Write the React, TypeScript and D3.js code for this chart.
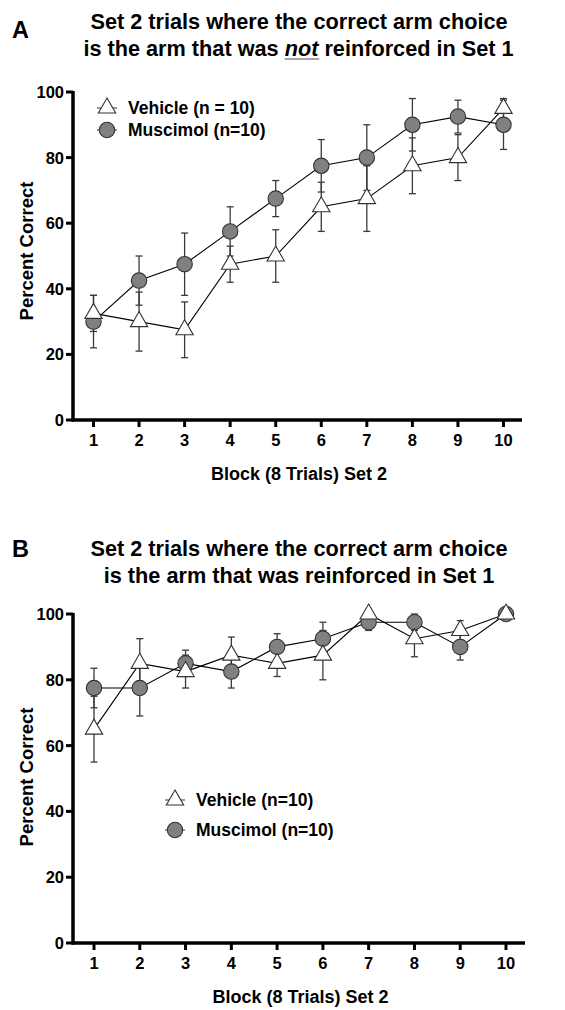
import React, { useLayoutEffect, useRef, useState } from "react";
import * as d3 from "d3";

const blocks = [1, 2, 3, 4, 5, 6, 7, 8, 9, 10];
const yTicks = [0, 20, 40, 60, 80, 100];

// Panel A: correct arm = arm NOT reinforced in Set 1
const vehicleA = [32.5, 30, 27.5, 47.5, 50, 65, 67.5, 77.5, 80, 95];
const vehicleSemA = [5.5, 9, 8.5, 5.5, 8, 7.5, 10, 8.5, 7, 3];
const muscimolA = [30, 42.5, 47.5, 57.5, 67.5, 77.5, 80, 90, 92.5, 90];
const muscimolSemA = [8, 7.5, 9.5, 7.5, 5.5, 8, 10, 8, 5, 7.5];

// Panel B: correct arm = arm reinforced in Set 1
const vehicleB = [65, 85, 82.5, 87.5, 85, 87.5, 100, 92.5, 95, 100];
const vehicleSemB = [10, 7.5, 5, 5.5, 4, 7.5, 0, 5.5, 3, 0];
const muscimolB = [77.5, 77.5, 85, 82.5, 90, 92.5, 97.5, 97.5, 90, 100];
const muscimolSemB = [6, 8.5, 4, 5, 4, 5, 2.5, 2.5, 4, 0];

const titleA1 = "Set 2 trials where the correct arm choice";
const titleA2pre = "is the arm that was ";
const titleA2not = "not";
const titleA2post = " reinforced in Set 1";
const titleB1 = "Set 2 trials where the correct arm choice";
const titleB2 = "is the arm that was reinforced in Set 1";
const xTitle = "Block (8 Trials) Set 2";
const yTitle = "Percent Correct";
const legendA = ["Vehicle (n = 10)", "Muscimol (n=10)"];
const legendB = ["Vehicle (n=10)", "Muscimol (n=10)"];

const FONT = "'Liberation Sans', Arial, Helvetica, sans-serif";
const CIRCLE_FILL = "#808080";
const MARK_STROKE = "#333";
const ERR = "#3a3a3a";

type PanelProps = {
  axisX: number;
  axisRight: number;
  y0: number;
  y100: number;
  xFirst: number;
  xLast: number;
  vehicle: number[];
  vehicleSem: number[];
  muscimol: number[];
  muscimolSem: number[];
  legendX: number;
  legendY1: number;
  legendY2: number;
  legendLabels: string[];
  yTitleX: number;
  yTitleY: number;
  xTitleY: number;
};

const triPath = d3.symbol().type(d3.symbolTriangle).size(130)() as string;

function Panel(p: PanelProps) {
  const { vehicle, vehicleSem, muscimol, muscimolSem } = p;
  const x = d3.scaleLinear().domain([1, 10]).range([p.xFirst, p.xLast]);
  const y = d3.scaleLinear().domain([0, 100]).range([p.y0, p.y100]);
  const line = d3
    .line<number>()
    .x((_, i) => x(blocks[i]))
    .y((d) => y(d));

  const errBars = (means: number[], sems: number[], key: string) =>
    means.map((m, i) => {
      if (!(sems[i] > 0)) return null;
      const cx = x(blocks[i]);
      const lo = y(m - sems[i]);
      const hi = y(Math.min(100, m + sems[i]));
      return (
        <g key={key + i} stroke={ERR} strokeWidth={1.3}>
          <line x1={cx} x2={cx} y1={lo} y2={hi} />
          <line x1={cx - 3.5} x2={cx + 3.5} y1={lo} y2={lo} />
          <line x1={cx - 3.5} x2={cx + 3.5} y1={hi} y2={hi} />
        </g>
      );
    });

  const midX = (p.xFirst + p.xLast) / 2 + 0.5;

  return (
    <g>
      <line x1={p.axisX} x2={p.axisX} y1={p.y0 + 1.5} y2={y(100) - 1} stroke="#000" strokeWidth={3.5} />
      <line x1={p.axisX - 1.5} x2={p.axisRight} y1={p.y0} y2={p.y0} stroke="#000" strokeWidth={3.5} />
      {yTicks.map((t) => (
        <g key={"yt" + t}>
          <line x1={p.axisX - 7} x2={p.axisX} y1={y(t)} y2={y(t)} stroke="#000" strokeWidth={3} />
          <text x={p.axisX - 9} y={y(t)} dy="0.36em" textAnchor="end" fontFamily={FONT} fontWeight="bold" fontSize={16.5}>
            {t}
          </text>
        </g>
      ))}
      {blocks.map((b) => (
        <g key={"xt" + b}>
          <line x1={x(b)} x2={x(b)} y1={p.y0} y2={p.y0 + 7} stroke="#000" strokeWidth={3} />
          <text x={x(b)} y={p.y0 + 26} textAnchor="middle" fontFamily={FONT} fontWeight="bold" fontSize={16.5}>
            {b}
          </text>
        </g>
      ))}
      <text x={midX} y={p.xTitleY} textAnchor="middle" fontFamily={FONT} fontWeight="bold" fontSize={18}>
        {xTitle}
      </text>
      <text
        transform={`translate(${p.yTitleX},${p.yTitleY}) rotate(-90)`}
        textAnchor="middle"
        fontFamily={FONT}
        fontWeight="bold"
        fontSize={18.5}
      >
        {yTitle}
      </text>

      {errBars(muscimol, muscimolSem, "me")}
      {errBars(vehicle, vehicleSem, "ve")}

      <path d={line(muscimol) || ""} fill="none" stroke="#000" strokeWidth={1.1} />
      <path d={line(vehicle) || ""} fill="none" stroke="#000" strokeWidth={1.1} />

      {muscimol.map((m, i) => (
        <circle key={"mc" + i} cx={x(blocks[i])} cy={y(m)} r={7.7} fill={CIRCLE_FILL} stroke={MARK_STROKE} strokeWidth={1.1} />
      ))}
      {vehicle.map((v, i) => (
        <path
          key={"vt" + i}
          d={triPath}
          transform={`translate(${x(blocks[i])},${y(v)})`}
          fill="#fff"
          stroke={MARK_STROKE}
          strokeWidth={1.1}
        />
      ))}

      <g>
        <line x1={p.legendX - 10} x2={p.legendX + 10} y1={p.legendY1} y2={p.legendY1} stroke="#333" strokeWidth={1} />
        <path d={triPath} transform={`translate(${p.legendX},${p.legendY1})`} fill="#fff" stroke={MARK_STROKE} strokeWidth={1.1} />
        <text x={p.legendX + 21} y={p.legendY1} dy="0.36em" fontFamily={FONT} fontWeight="bold" fontSize={17.5}>
          {p.legendLabels[0]}
        </text>
        <line x1={p.legendX - 10} x2={p.legendX + 10} y1={p.legendY2} y2={p.legendY2} stroke="#333" strokeWidth={1} />
        <circle cx={p.legendX} cy={p.legendY2} r={7.7} fill={CIRCLE_FILL} stroke={MARK_STROKE} strokeWidth={1.1} />
        <text x={p.legendX + 21} y={p.legendY2} dy="0.36em" fontFamily={FONT} fontWeight="bold" fontSize={17.5}>
          {p.legendLabels[1]}
        </text>
      </g>
    </g>
  );
}

function TitleA() {
  const notRef = useRef<SVGTSpanElement>(null);
  const [ul, setUl] = useState<{ x: number; w: number; y: number } | null>(null);
  useLayoutEffect(() => {
    const el = notRef.current as any;
    if (el && el.getBBox) {
      const b = el.getBBox();
      setUl({ x: b.x, w: b.width, y: b.y + b.height });
    }
  }, []);
  return (
    <g fontFamily={FONT} fontWeight="bold" fontSize={21.7}>
      <text x={12} y={38} fontSize={23.5}>A</text>
      <text x={299} y={29} textAnchor="middle">{titleA1}</text>
      <text x={298.5} y={56} textAnchor="middle">
        {titleA2pre}
        <tspan ref={notRef} fontStyle="italic">{titleA2not}</tspan>
        {titleA2post}
      </text>
      {ul && <line x1={ul.x} x2={ul.x + ul.w} y1={ul.y - 2} y2={ul.y - 2} stroke="#888" strokeWidth={1.5} />}
    </g>
  );
}

export default function App() {
  return (
    <svg width={565} height={1010} style={{ position: "absolute", left: 0, top: 0, display: "block", background: "#fff" }}>
      <TitleA />
      <Panel
        axisX={73}
        axisRight={522}
        y0={420}
        y100={92}
        xFirst={93.5}
        xLast={503.5}
        vehicle={vehicleA}
        vehicleSem={vehicleSemA}
        muscimol={muscimolA}
        muscimolSem={muscimolSemA}
        legendX={107}
        legendY1={108}
        legendY2={130}
        legendLabels={legendA}
        yTitleX={33}
        yTitleY={251}
        xTitleY={480}
      />
      <g fontFamily={FONT} fontWeight="bold" fontSize={21.7}>
        <text x={12} y={557} fontSize={23.5}>B</text>
        <text x={299} y={556} textAnchor="middle">{titleB1}</text>
        <text x={299} y={583} textAnchor="middle">{titleB2}</text>
      </g>
      <Panel
        axisX={73}
        axisRight={525}
        y0={943}
        y100={614}
        xFirst={94}
        xLast={506}
        vehicle={vehicleB}
        vehicleSem={vehicleSemB}
        muscimol={muscimolB}
        muscimolSem={muscimolSemB}
        legendX={175}
        legendY1={800}
        legendY2={830}
        legendLabels={legendB}
        yTitleX={33}
        yTitleY={777}
        xTitleY={1003}
      />
    </svg>
  );
}
